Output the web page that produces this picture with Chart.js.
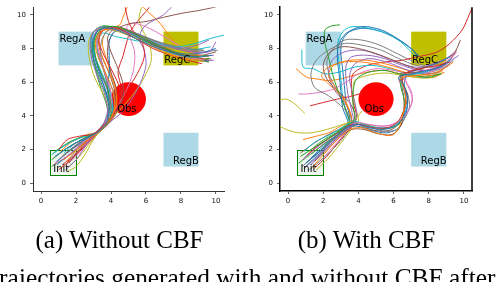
<!DOCTYPE html>
<html><head><meta charset="utf-8">
<script src="https://cdn.jsdelivr.net/npm/chart.js@4"></script>
<style>
html,body{margin:0;padding:0;background:#fff;width:496px;height:282px;overflow:hidden;position:relative}
canvas{position:absolute}
svg{position:absolute;left:0;top:0}
</style></head><body>
<canvas id="c1" width="232" height="212" style="left:0;top:-1px"></canvas>
<canvas id="c2" width="232" height="212" style="left:248px;top:-1px"></canvas>
<svg width="496" height="282">
 <text x="119.5" y="248" text-anchor="middle" font-family="Liberation Serif, Times New Roman, serif" font-size="25">(a) Without CBF</text>
 <text x="366.5" y="248" text-anchor="middle" font-family="Liberation Serif, Times New Roman, serif" font-size="25">(b) With CBF</text>
 <text x="-15.5" y="286" font-family="Liberation Serif, Times New Roman, serif" font-size="25.4">Trajectories generated with and without CBF after</text>
</svg>
<script>
// ---- data ----
const xTicks = [0, 2, 4, 6, 8, 10];
const yTicks = [0, 2, 4, 6, 8, 10];
const regionNames = ['RegA', 'RegB', 'RegC'];
const regionX0 = [1, 7, 7];
const regionX1 = [3, 9, 9];
const regionY0 = [7, 1, 7];
const regionY1 = [9, 3, 9];
const initBox = [0.5, 2, 0.5, 2];          // x0, x1, y0, y1
const obsCenter = [5, 5];
const obsRadius = 1;
const labelText = ['RegA', 'RegB', 'RegC', 'Obs', 'Init'];
const labelX = [1.05, 7.55, 7.05, 4.35, 0.7];
const labelY = [8.4, 1.15, 7.15, 4.25, 0.7];

// trajectories without CBF: flat x,y pairs
const noCbfTraj = [
 [0.8,1.6, 1.8,2.3, 2.6,2.7, 3.1,2.95, 3.7,3.5, 3.9,4.5, 3.7,5.5, 3.3,6.5, 3.0,7.5, 2.95,8.4, 3.3,9.1, 4.0,9.2, 5.0,8.8, 6.0,8.3, 7.0,7.9, 8.0,7.6, 9.0,7.5, 9.8,7.6],
 [1.2,1.0, 1.9,1.8, 2.6,2.5, 3.1,2.9, 3.8,3.6, 4.2,4.4, 4.1,5.5, 3.7,6.5, 3.3,7.4, 3.1,8.3, 3.4,9.0, 4.2,9.15, 5.2,8.7, 6.2,8.2, 7.2,7.7, 8.2,7.4, 9.3,7.3],
 [0.6,1.4, 1.5,2.1, 2.5,2.7, 3.2,3.0, 3.9,3.7, 4.0,4.6, 3.8,5.6, 3.4,6.6, 3.1,7.6, 3.1,8.5, 3.5,9.2, 4.3,9.3, 5.3,8.9, 6.3,8.4, 7.3,7.9, 8.4,7.5, 9.5,7.6],
 [1.0,2.0, 1.5,2.6, 2.2,2.8, 3.0,2.95, 3.8,3.7, 4.4,4.6, 4.5,5.6, 4.1,6.6, 3.6,7.6, 3.3,8.5, 3.6,9.1, 4.4,9.2, 5.4,8.6, 6.4,8.0, 7.4,7.6, 8.4,7.3, 9.2,7.1],
 [1.4,0.8, 2.0,1.4, 2.6,2.3, 3.0,2.85, 3.5,3.4, 3.8,4.3, 3.6,5.4, 3.2,6.4, 2.9,7.4, 2.8,8.3, 3.0,9.0, 3.6,9.3, 4.6,9.1, 5.6,8.7, 6.6,8.3, 7.6,8.0, 8.6,7.8, 9.6,7.8, 10.0,8.4],
 [1.6,1.2, 2.1,1.9, 2.7,2.6, 3.2,3.0, 4.0,3.8, 4.6,4.8, 4.7,5.8, 4.4,6.8, 4.0,7.8, 3.8,8.6, 4.1,9.1, 4.9,9.1, 5.8,8.6, 6.8,8.1, 7.8,7.7, 8.8,7.5, 9.6,7.3],
 [0.7,1.1, 1.6,1.7, 2.4,2.4, 3.0,2.9, 3.6,3.5, 4.0,4.4, 4.0,5.4, 3.7,6.4, 3.4,7.4, 3.2,8.3, 3.3,9.0, 3.9,9.2, 4.8,8.9, 5.8,8.4, 6.8,8.0, 7.8,7.6, 8.8,7.4, 9.9,7.3],
 [1.1,1.5, 2.0,2.2, 2.7,2.7, 3.1,3.0, 3.6,3.6, 3.9,4.6, 3.8,5.7, 3.6,6.7, 3.4,7.7, 3.5,8.6, 3.9,9.1, 4.7,9.1, 5.6,8.8, 6.6,8.4, 7.6,8.1, 8.6,7.9, 9.3,7.9],
 [1.5,0.7, 2.0,1.0, 2.5,1.7, 3.0,2.6, 3.5,3.3, 3.9,4.2, 3.6,5.2, 3.1,6.2, 2.8,7.2, 2.7,8.2, 2.9,8.9, 3.4,9.2, 4.4,9.0, 5.4,8.6, 6.4,8.1, 7.4,7.7, 8.4,7.4, 9.3,7.2],
 [0.6,1.7, 1.6,2.4, 2.5,2.8, 3.1,3.0, 3.8,3.6, 4.1,4.5, 3.9,5.5, 3.5,6.5, 3.1,7.5, 2.9,8.4, 3.1,9.1, 3.8,9.3, 4.8,9.0, 5.8,8.6, 6.8,8.3, 7.8,8.1, 8.8,8.3, 9.7,8.6, 10.5,8.8],
 [0.9,1.3, 1.7,2.0, 2.5,2.6, 3.0,2.9, 3.7,3.6, 3.9,4.6, 3.8,5.6, 3.9,6.6, 3.9,7.6, 3.9,8.4, 4.2,9.0, 5.0,9.0, 6.0,8.5, 7.0,8.0, 8.0,7.7, 9.0,7.7, 10.0,8.0],
 [1.3,1.4, 2.0,2.0, 2.7,2.6, 3.2,3.0, 3.9,3.7, 4.3,4.7, 4.2,5.8, 3.8,6.8, 3.4,7.8, 3.3,8.6, 3.6,9.2, 4.5,9.2, 5.5,8.8, 6.5,8.3, 7.5,7.8, 8.5,7.5, 9.4,7.4],
 [0.8,1.9, 1.7,2.5, 2.5,2.8, 3.1,2.95, 3.7,3.5, 3.8,4.4, 3.5,5.4, 3.2,6.4, 3.0,7.4, 3.0,8.3, 3.3,9.1, 4.1,9.3, 5.1,8.9, 6.1,8.4, 7.1,7.9, 8.1,7.5, 9.1,7.4, 9.7,7.4],
 [1.0,0.8, 1.8,1.5, 2.6,2.4, 3.1,2.9, 3.8,3.6, 4.4,4.5, 4.9,5.5, 5.5,6.5, 5.9,7.5, 5.8,8.3, 5.3,9.0, 5.0,9.6, 4.8,10.5],
 [1.2,1.1, 2.0,1.8, 2.7,2.5, 3.2,2.95, 3.9,3.6, 4.6,4.2, 5.2,5.0, 5.7,6.0, 6.0,7.0, 5.9,7.9, 5.6,8.6, 5.9,9.3, 6.5,9.7, 7.0,10.0, 7.5,10.5],
 [1.4,1.5, 2.1,2.1, 2.8,2.7, 3.2,3.0, 3.8,3.7, 4.2,4.6, 4.3,5.6, 4.0,6.6, 3.8,7.6, 3.9,8.5, 4.4,9.2, 5.2,9.5, 6.0,9.6, 7.0,9.85, 8.1,10.1, 9.0,10.25, 9.7,10.4, 10.5,10.6],
 [0.7,1.5, 1.5,2.1, 2.4,2.6, 3.2,3.0, 3.9,3.8, 4.5,4.8, 5.0,5.8, 5.3,6.8, 5.35,7.8, 5.1,8.6, 4.9,9.3, 5.3,9.5, 6.2,9.2, 7.2,8.6, 8.2,8.0, 9.2,7.6, 9.9,7.6],
 [1.7,1.7, 2.3,2.3, 2.9,2.8, 3.3,3.05, 3.9,3.7, 4.1,4.7, 3.9,5.8, 3.6,6.8, 3.3,7.8, 3.2,8.7, 3.6,9.25, 4.4,9.25, 5.4,8.9, 6.4,8.5, 7.4,8.2, 8.4,8.0, 9.3,7.9],
 [1.6,1.0, 2.2,1.6, 2.8,2.4, 3.3,3.0, 4.0,3.8, 4.8,4.7, 5.5,5.6, 6.0,6.5, 6.3,7.3, 6.2,8.3, 5.8,9.1, 5.6,9.8, 5.8,10.6],
 [1.3,1.8, 2.0,2.4, 2.7,2.8, 3.1,3.0, 3.7,3.7, 4.2,4.6, 4.1,5.5, 3.7,6.5, 3.3,7.4, 3.2,8.2, 3.5,8.9, 4.3,8.7, 5.8,8.4, 7.0,8.2, 8.7,7.95, 9.7,8.1],
 [0.9,1.1, 1.7,1.8, 2.5,2.5, 3.0,2.9, 3.6,3.5, 3.9,4.4, 3.7,5.4, 3.4,6.4, 3.1,7.4, 3.0,8.3, 3.2,9.0, 3.9,9.25, 4.9,9.0, 5.9,8.5, 6.9,8.0, 7.9,7.6, 8.9,7.3, 9.8,7.3],
 [1.1,1.9, 1.8,2.5, 2.6,2.9, 3.2,3.0, 3.9,3.6, 4.3,4.5, 4.3,5.5, 4.0,6.5, 3.7,7.5, 3.5,8.4, 3.8,9.1, 4.5,9.4, 4.7,9.9, 5.0,10.5, 5.6,10.6, 6.2,10.1, 6.8,9.5, 7.3,8.8, 8.0,8.0, 9.0,7.6, 9.6,7.5],
 [0.6,1.0, 1.5,1.6, 2.4,2.3, 3.0,2.85, 3.6,3.4, 3.9,4.3, 3.7,5.3, 3.3,6.3, 3.0,7.3, 2.85,8.2, 3.0,9.0, 3.6,9.35, 4.6,9.1, 5.6,8.6, 6.6,8.1, 7.6,7.7, 8.6,7.4, 9.6,7.2],
 [1.5,1.3, 2.2,1.9, 2.9,2.6, 3.3,3.0, 4.0,3.7, 4.5,4.6, 4.6,5.6, 4.4,6.6, 4.7,7.6, 4.9,8.4, 5.1,9.0, 5.5,9.6, 6.0,10.2, 6.3,10.6],
 [0.8,1.2, 1.6,1.9, 2.5,2.5, 3.1,2.95, 3.7,3.6, 4.0,4.5, 3.8,5.5, 3.4,6.5, 3.1,7.5, 3.0,8.4, 3.2,9.1, 3.9,9.3, 4.9,9.1, 5.9,8.7, 6.9,8.3, 7.9,8.0, 8.9,8.2, 9.6,8.5],
 [1.2,1.6, 1.9,2.2, 2.6,2.7, 3.1,3.0, 3.8,3.6, 4.2,4.5, 4.2,5.5, 3.9,6.5, 3.5,7.5, 3.3,8.4, 3.5,9.1, 4.3,9.3, 5.2,9.0, 6.2,8.5, 7.2,8.0, 8.2,7.6, 9.2,7.6, 10.0,7.8],
 [1.4,1.1, 2.1,1.7, 2.8,2.5, 3.2,2.95, 3.8,3.5, 4.1,4.4, 3.9,5.4, 3.5,6.4, 3.1,7.4, 2.9,8.3, 3.2,9.05, 4.0,9.2, 5.0,8.9, 6.0,8.4, 7.0,7.9, 8.0,7.6, 9.0,7.3, 9.6,7.2],
 [0.7,1.8, 1.6,2.4, 2.5,2.8, 3.1,3.0, 3.7,3.6, 4.0,4.6, 3.9,5.6, 3.6,6.6, 3.3,7.6, 3.2,8.5, 3.5,9.15, 4.2,9.3, 5.2,9.0, 6.2,8.6, 7.2,8.2, 8.2,7.9, 9.2,7.8, 10.1,7.9]
];

// trajectories with CBF: flat x,y pairs
const cbfTraj = [
 [1.0,1.2, 1.8,1.9, 2.6,2.7, 3.3,3.3, 3.9,3.5, 4.6,3.3, 5.4,3.2, 6.1,3.4, 6.6,4.0, 6.8,4.9, 6.6,5.8, 6.3,6.3, 7.0,6.5, 8.0,6.7, 8.8,7.0, 9.3,7.4],
 [1.4,1.0, 2.1,1.8, 2.8,2.6, 3.5,3.2, 4.2,3.3, 5.0,3.0, 5.9,2.85, 6.3,3.3, 6.5,4.0, 6.7,4.8, 6.6,5.6, 6.4,6.2, 7.2,6.4, 8.2,6.5, 9.0,6.9, 9.4,7.2],
 [0.7,1.6, 1.6,2.2, 2.5,2.8, 3.3,3.4, 3.8,3.8, 3.7,4.6, 3.7,5.5, 3.9,6.2, 4.6,6.6, 5.5,6.7, 6.3,6.5, 7.2,6.4, 8.0,6.3, 8.7,6.5],
 [1.1,1.7, 1.9,2.4, 2.7,2.9, 3.4,3.4, 4.0,3.5, 4.8,3.3, 5.6,3.3, 6.2,3.6, 6.6,4.4, 6.7,5.3, 6.5,6.0, 6.6,6.5, 7.5,6.8, 8.5,7.0, 9.2,7.2],
 [0.9,0.9, 1.7,1.6, 2.5,2.4, 3.2,3.1, 3.7,3.6, 3.6,4.4, 3.4,5.3, 3.3,6.2, 3.3,7.0, 3.6,7.5, 4.5,7.6, 5.5,7.4, 6.5,7.0, 7.5,6.7, 8.5,6.8, 9.3,7.3, 9.7,7.6],
 [1.5,1.3, 2.2,2.0, 2.9,2.7, 3.6,3.2, 4.3,3.2, 5.1,2.95, 5.9,2.9, 6.4,3.4, 6.6,4.3, 6.8,5.2, 6.5,6.0, 6.4,6.5, 7.3,6.6, 8.3,6.8, 9.1,7.2],
 [0.8,1.4, 1.6,2.1, 2.4,2.7, 3.2,3.3, 3.9,3.6, 4.6,3.5, 5.5,3.4, 6.3,3.7, 6.9,4.4, 7.05,5.1, 6.8,5.8, 6.6,6.3, 7.4,6.6, 8.4,6.9, 9.2,7.4, 9.6,7.8],
 [1.2,0.8, 2.0,1.5, 2.8,2.3, 3.4,3.1, 3.6,3.8, 3.0,4.6, 2.3,5.2, 1.5,5.7, 1.3,6.5, 1.6,7.3, 2.3,7.9, 3.2,8.3, 4.2,8.2, 5.3,7.9, 6.3,7.4, 7.3,7.0, 8.3,6.9, 9.0,7.1],
 [-0.5,3.4, 0.0,3.15, 0.6,3.0, 1.3,3.0, 2.2,3.2, 3.1,3.5, 3.8,3.8, 4.2,4.3],
 [0.9,1.9, 1.6,2.5, 2.4,2.9, 3.2,3.4, 3.8,3.7, 4.5,3.4, 5.3,3.3, 6.0,3.4, 6.5,3.9, 6.7,4.7, 6.6,5.5, 6.4,6.1, 6.9,6.4, 7.8,6.6, 8.6,6.9, 9.2,7.3],
 [1.3,1.5, 2.0,2.2, 2.8,2.9, 3.4,3.5, 3.1,4.5, 3.0,5.5, 2.9,6.5, 2.8,7.5, 2.9,8.3, 3.3,8.9, 4.2,9.3, 5.3,9.1, 6.2,8.6, 7.0,8.0, 7.4,7.5],
 [0.85,2.6, 1.6,2.8, 2.3,3.0, 3.0,3.4, 3.6,3.7, 3.4,4.5, 3.0,5.2, 2.3,5.9, 1.9,6.4, 2.3,6.9, 3.2,7.2, 4.2,7.2, 5.3,7.0, 6.3,6.7, 7.3,6.4, 8.2,6.4, 8.8,6.7],
 [0.6,1.2, 1.5,1.9, 2.4,2.6, 3.1,3.1, 3.5,3.6, 3.2,4.6, 2.8,5.6, 2.5,6.6, 2.3,7.5, 2.1,8.3, 2.1,9.1, 2.5,9.35, 2.95,9.4],
 [1.25,4.6, 2.0,4.8, 2.8,5.0, 3.5,5.15, 4.2,5.35],
 [1.3,1.1, 2.0,1.9, 2.8,2.7, 3.5,3.3, 3.9,3.9, 3.8,4.8, 3.6,5.6, 3.5,6.4, 3.8,7.1, 4.6,7.4, 5.6,7.2, 6.6,6.8, 7.6,6.5, 8.5,6.6, 9.2,7.1],
 [1.7,1.6, 2.4,2.3, 3.0,2.9, 3.6,3.4, 3.8,4.0, 3.5,4.8, 2.8,5.5, 2.2,6.2, 2.0,7.0, 2.3,7.7, 3.0,8.1, 4.0,8.0, 5.0,7.7, 6.0,7.3, 7.0,6.9, 8.0,6.7, 9.0,7.1, 9.5,7.8, 9.8,8.5],
 [0.6,5.3, 1.0,5.3, 1.8,5.4, 2.6,5.6, 3.3,6.0, 4.0,6.5, 5.0,6.8, 6.0,6.7, 7.0,6.5, 8.0,6.6, 8.9,7.0, 9.55,7.75],
 [0.8,1.0, 1.7,1.8, 2.6,2.6, 3.3,3.2, 3.9,3.5, 4.6,3.4, 5.4,3.1, 6.2,3.2, 6.6,3.8, 6.9,4.5, 6.8,5.3, 6.5,6.1, 7.2,6.5, 8.1,6.6, 8.9,6.9, 9.4,7.3],
 [-0.5,4.95, -0.1,5.0, 0.4,4.7, 0.95,4.15],
 [0.78,7.93, 0.86,6.9, 1.43,6.8, 2.1,6.5, 2.9,6.6, 3.8,6.9, 4.8,7.0, 5.8,6.8, 6.8,6.5, 7.8,6.3, 8.6,6.6],
 [0.9,1.5, 1.7,2.2, 2.5,2.8, 3.3,3.3, 3.9,3.4, 4.7,3.15, 5.6,3.0, 6.3,3.3, 6.7,4.1, 6.8,5.0, 6.6,5.9, 6.8,6.5, 7.8,6.9, 8.6,7.2, 9.2,7.5],
 [1.8,1.9, 2.4,2.5, 3.0,3.0, 3.6,3.5, 3.5,4.3, 3.2,5.0, 2.7,5.7, 2.3,6.4, 2.6,7.0, 3.5,7.3, 4.5,7.3, 5.5,7.1, 6.5,6.8, 7.5,6.5, 8.5,6.6, 9.1,7.0],
 [1.2,1.9, 1.9,2.5, 2.7,3.0, 3.4,3.5, 4.0,3.6, 4.7,3.4, 5.6,3.25, 6.3,3.5, 6.6,4.2, 6.6,5.0, 6.4,5.8, 6.5,6.4, 7.4,6.5, 8.2,6.4, 8.7,6.5],
 [1.5,0.9, 2.2,1.6, 2.9,2.5, 3.5,3.2, 3.9,3.9, 3.7,4.8, 3.6,5.7, 3.7,6.5, 4.5,7.0, 5.5,7.2, 6.5,7.3, 7.1,7.45, 7.8,7.6, 8.5,7.8, 9.2,8.3, 9.9,9.1, 10.3,10.0, 10.5,10.5],
 [1.1,1.3, 1.9,2.0, 2.7,2.7, 3.4,3.3, 3.6,4.0, 3.2,4.8, 2.6,5.6, 2.3,6.5, 2.5,7.3, 3.2,7.8, 4.2,7.9, 5.2,7.6, 6.2,7.2, 7.2,6.9, 8.2,7.0, 9.0,7.4, 9.6,7.9],
 [0.7,1.8, 1.5,2.4, 2.3,2.9, 3.1,3.3, 3.7,3.6, 4.4,3.3, 5.2,3.1, 5.9,3.2, 6.4,3.7, 6.6,4.6, 6.5,5.6, 6.3,6.3, 6.9,6.6, 7.9,6.9, 8.8,7.3, 9.5,7.7],
 [1.9,1.4, 2.5,2.1, 3.1,2.8, 3.7,3.4, 4.4,3.5, 5.2,3.4, 6.0,3.5, 6.6,4.0, 7.05,4.8, 7.0,5.5, 6.7,6.1, 6.8,6.6, 7.6,6.9, 8.5,7.2, 9.2,7.5, 9.55,7.75],
 [1.4,1.8, 2.1,2.4, 2.9,2.9, 3.5,3.4, 3.3,4.3, 2.9,5.3, 2.4,6.3, 2.2,7.2, 2.5,7.9, 3.2,8.5, 4.2,8.5, 5.2,8.2, 6.2,7.7, 7.2,7.2, 8.2,6.9, 9.0,7.1],
 [1.6,0.8, 2.3,1.5, 3.0,2.4, 3.6,3.2, 4.0,3.7, 3.8,4.6, 3.7,5.5, 3.8,6.1, 4.5,6.4, 5.5,6.55, 6.5,6.4, 7.5,6.25, 8.3,6.3, 8.8,6.6],
 [1.5,1.6, 2.2,2.3, 2.9,2.9, 3.5,3.4, 3.3,4.2, 3.1,5.2, 3.0,6.2, 2.9,7.2, 2.8,8.0, 2.9,8.6, 3.2,9.1, 3.7,9.3, 4.6,9.2, 5.6,8.9, 6.4,8.4, 7.0,7.8, 7.3,7.5],
 [1.0,1.0, 1.8,1.8, 2.6,2.6, 3.3,3.2, 3.5,3.9, 3.3,4.8, 3.2,5.8, 3.1,6.8, 3.0,7.8, 3.1,8.5, 3.5,9.0, 4.3,9.2, 5.3,9.0, 6.3,8.5, 7.1,7.9, 7.5,7.5],
 [0.45,6.8, 1.06,6.3, 1.6,6.2, 2.3,6.1, 3.0,6.2, 3.7,6.4, 4.5,6.6, 5.5,6.7, 6.4,6.5, 7.4,6.3, 8.3,6.3, 8.9,6.6]
];

const tab10 = ['#1f77b4','#ff7f0e','#2ca02c','#d62728','#9467bd','#8c564b','#e377c2','#7f7f7f','#bcbd22','#17becf'];

function toPts(flat){ const p=[]; for(let i=0;i<flat.length;i+=2) p.push({x:flat[i],y:flat[i+1]}); return p; }

const shapesPlugin = {
  id: 'shapes',
  beforeDatasetsDraw(chart){
    const {ctx, chartArea:a, scales:{x, y}} = chart;
    ctx.save();
    ctx.beginPath(); ctx.rect(a.left, a.top, a.right-a.left, a.bottom-a.top); ctx.clip();
    const fills = ['#add8e6','#add8e6','#bfbf00'];
    for (let i=0;i<regionNames.length;i++){
      const px0=x.getPixelForValue(regionX0[i]), px1=x.getPixelForValue(regionX1[i]);
      const py0=y.getPixelForValue(regionY1[i]), py1=y.getPixelForValue(regionY0[i]);
      ctx.fillStyle = fills[i];
      ctx.fillRect(px0, py0, px1-px0, py1-py0);
    }
    const ix0=x.getPixelForValue(initBox[0]), ix1=x.getPixelForValue(initBox[1]);
    const iy0=y.getPixelForValue(initBox[3]), iy1=y.getPixelForValue(initBox[2]);
    ctx.fillStyle='rgba(0,128,0,0.07)';
    ctx.fillRect(ix0, iy0, ix1-ix0, iy1-iy0);
    ctx.strokeStyle='#008000'; ctx.lineWidth=1;
    ctx.strokeRect(Math.round(ix0)+0.5, Math.round(iy0)+0.5, Math.round(ix1-ix0), Math.round(iy1-iy0));
    const cx=x.getPixelForValue(obsCenter[0]), cy=y.getPixelForValue(obsCenter[1]);
    const rx=Math.abs(x.getPixelForValue(obsCenter[0]+obsRadius)-cx);
    const ry=Math.abs(y.getPixelForValue(obsCenter[1]+obsRadius)-cy);
    ctx.fillStyle='#ff0000';
    ctx.beginPath(); ctx.ellipse(cx, cy, rx, ry, 0, 0, Math.PI*2); ctx.fill();
    ctx.restore();
  },
  afterDatasetsDraw(chart, args, opts){
    const {ctx, chartArea:a, scales:{x, y}} = chart;
    ctx.save();
    ctx.fillStyle='#000';
    ctx.font='10px "DejaVu Sans"';
    ctx.textAlign='left'; ctx.textBaseline='alphabetic';
    for (let i=0;i<labelText.length;i++){
      ctx.fillText(labelText[i], x.getPixelForValue(labelX[i]), y.getPixelForValue(labelY[i]));
    }
    if (opts.rightSpine){
      ctx.strokeStyle='#000'; ctx.lineWidth=opts.spineWidth;
      ctx.beginPath(); ctx.moveTo(a.right, a.top); ctx.lineTo(a.right, a.bottom); ctx.stroke();
    }
    ctx.restore();
  }
};

function makeChart(id, trajs, rightSpine, spineColor, spineWidth){
  const datasets = trajs.map((t,i)=>({
    data: toPts(t), borderColor: tab10[i%10], borderWidth: 1, pointRadius: 0,
    showLine: true, tension: 0.3, fill: false
  }));
  const axis = (w, isX) => ({
    type: 'linear', min: isX ? -0.46 : -0.45, max: isX ? 10.46 : 10.45,
    afterBuildTicks: s => { s.ticks = (isX ? xTicks : yTicks).map(v=>({value:v})); },
    afterFit: s => { if (isX) s.height = 20; else s.width = w; },
    grid: { drawOnChartArea: false, drawTicks: true, tickLength: 3, tickColor: '#666', tickWidth: 1 },
    border: { display: true, color: spineColor, width: spineWidth },
    ticks: { font: { family: 'DejaVu Sans', size: 7 }, color: '#111', padding: isX ? 3 : 4,
             maxRotation: 0, autoSkip: false, callback: v => String(v) }
  });
  return new Chart(document.getElementById(id), {
    type: 'scatter',
    data: { datasets },
    options: {
      responsive: false, animation: false, events: [],
      layout: { padding: { left: 0, right: 8, top: 0, bottom: 0 } },
      plugins: { legend: { display: false }, tooltip: { enabled: false },
                 shapes: { rightSpine, spineWidth } },
      scales: { x: axis(0, true), y: axis(id==='c1' ? 33 : 32, false) }
    },
    plugins: [shapesPlugin]
  });
}
makeChart('c1', noCbfTraj, false, '#333', 1);
makeChart('c2', cbfTraj, true, '#000', 1.5);
</script>
</body></html>
